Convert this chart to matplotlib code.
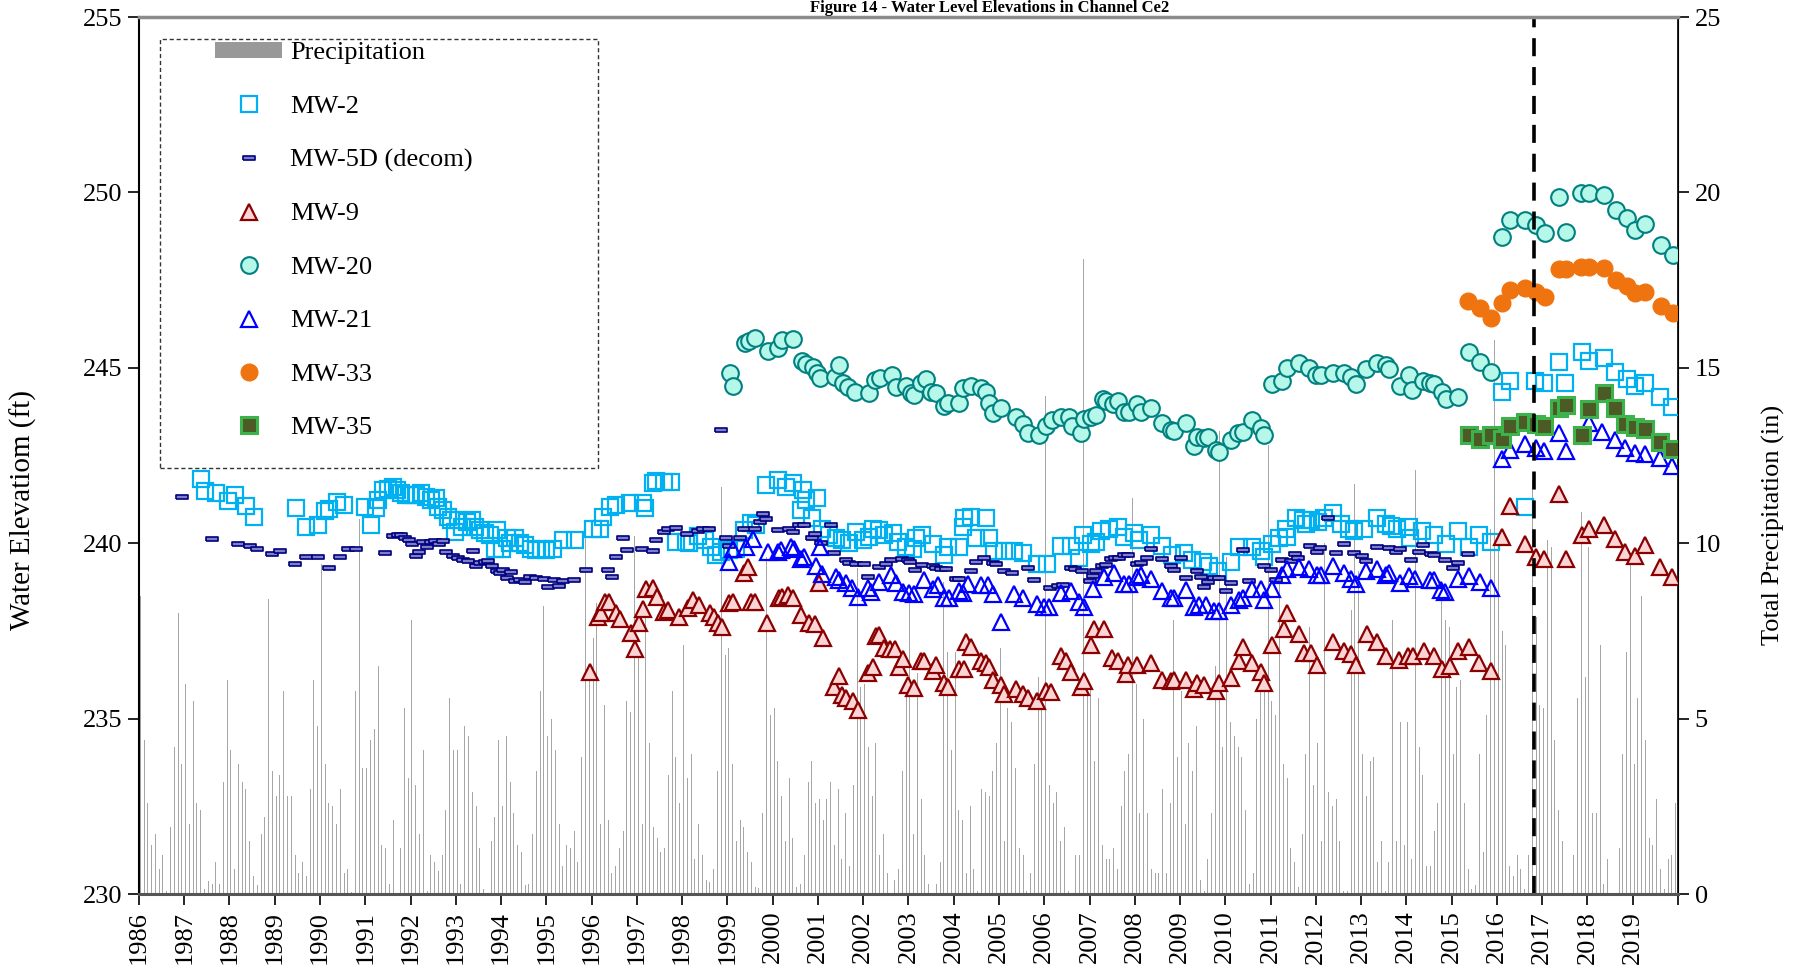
import matplotlib
matplotlib.use("Agg")
import matplotlib.pyplot as plt
import numpy as np
from matplotlib.patches import Patch, Rectangle
from matplotlib.lines import Line2D


# ----------------------------------------
# Monthly precipitation (in), one row per year, Jan..Dec
# ----------------------------------------

precip_years = list(range(1986, 2020))

precip_monthly = [
    [8.5, 4.4, 2.6, 1.4, 1.7, 0.7, 1.1, 0.1, 1.9, 4.2, 8.0, 3.7],
    [6.0, 2.0, 5.5, 2.6, 2.4, 0.15, 0.36, 0.3, 0.9, 0.3, 3.2, 6.1],
    [4.1, 0.7, 3.7, 3.2, 3.0, 1.5, 0.5, 0.25, 1.7, 2.2, 8.4, 3.5],
    [2.8, 3.4, 5.8, 2.8, 2.8, 1.1, 0.6, 0.9, 0.5, 3.0, 6.1, 4.8],
    [9.4, 3.7, 2.6, 2.5, 2.0, 3.0, 0.6, 0.7, 0.05, 5.8, 10.7, 3.6],
    [3.6, 4.4, 4.7, 6.5, 1.4, 1.3, 0.3, 2.1, 0.0, 1.3, 5.3, 3.3],
    [7.8, 3.1, 1.7, 4.1, 0.1, 1.1, 0.9, 0.65, 1.1, 2.4, 5.6, 4.1],
    [4.1, 0.3, 4.8, 4.5, 2.9, 2.5, 1.3, 0.15, 0.0, 1.5, 2.2, 4.4],
    [2.5, 4.5, 3.2, 2.3, 1.4, 1.2, 0.25, 0.3, 1.7, 3.5, 5.8, 8.2],
    [4.5, 5.0, 4.1, 2.0, 0.8, 1.4, 1.3, 1.8, 0.9, 3.9, 10.4, 6.2],
    [7.3, 8.3, 2.0, 5.4, 2.1, 0.6, 0.8, 1.3, 1.8, 5.5, 5.2, 10.2],
    [7.0, 2.0, 8.0, 4.3, 1.9, 1.6, 1.2, 1.3, 3.4, 5.8, 3.9, 2.6],
    [7.1, 3.3, 4.0, 1.0, 2.0, 1.1, 0.4, 0.35, 0.7, 3.5, 11.6, 6.8],
    [7.0, 3.7, 1.5, 2.1, 1.9, 1.2, 0.9, 0.2, 0.17, 2.3, 9.6, 5.1],
    [5.3, 3.8, 2.8, 1.5, 3.3, 1.6, 0.2, 0.3, 1.1, 3.2, 3.8, 2.6],
    [2.7, 2.1, 2.7, 3.2, 1.4, 3.0, 1.0, 2.3, 0.8, 3.1, 9.3, 5.9],
    [6.0, 4.2, 2.8, 4.3, 1.1, 1.7, 0.6, 0.0, 0.4, 0.7, 3.5, 5.7],
    [8.5, 1.7, 6.3, 2.7, 1.1, 0.3, 0.0, 0.3, 0.9, 8.9, 6.9, 4.1],
    [6.9, 2.4, 2.1, 0.6, 2.5, 0.7, 0.1, 3.0, 2.9, 2.8, 3.5, 4.3],
    [7.0, 1.5, 5.3, 4.9, 3.6, 1.3, 1.1, 0.1, 0.6, 3.7, 6.2, 5.4],
    [14.2, 3.1, 2.6, 2.9, 1.5, 1.9, 0.1, 0.0, 1.1, 1.1, 18.1, 5.9],
    [6.0, 3.8, 5.6, 1.4, 1.0, 1.0, 1.3, 0.7, 2.5, 3.5, 4.0, 11.3],
    [6.0, 2.3, 5.0, 2.3, 0.7, 0.6, 0.6, 3.0, 0.6, 2.6, 7.8, 3.9],
    [5.8, 2.0, 4.3, 3.5, 4.8, 0.4, 0.1, 1.0, 2.3, 6.5, 13.2, 4.2],
    [9.6, 4.9, 4.5, 4.2, 3.9, 2.4, 0.3, 0.6, 5.0, 5.9, 6.4, 12.8],
    [5.5, 5.1, 8.9, 3.7, 3.3, 1.3, 0.9, 0.2, 1.7, 4.0, 7.6, 3.1],
    [4.3, 1.5, 10.0, 2.9, 2.5, 2.7, 1.5, 0.1, 0.1, 8.1, 11.7, 9.2],
    [4.0, 2.8, 3.8, 3.9, 0.9, 1.5, 0.1, 0.9, 7.8, 1.5, 4.9, 1.4],
    [4.9, 1.0, 12.1, 4.2, 3.4, 0.8, 0.8, 1.8, 2.6, 8.4, 7.8, 7.6],
    [4.0, 5.9, 6.1, 2.6, 0.7, 0.15, 0.26, 4.0, 1.2, 5.1, 10.4, 15.8],
    [10.2, 7.5, 7.1, 0.8, 0.5, 1.1, 0.7, 0.15, 1.1, 11.8, 7.9, 5.4],
    [5.3, 10.1, 9.9, 4.4, 2.4, 1.5, 0.0, 0.0, 1.1, 5.6, 10.9, 6.2],
    [9.9, 2.3, 2.3, 7.1, 0.3, 1.0, 0.0, 0.0, 1.3, 4.0, 6.9, 9.6],
    [3.7, 5.6, 8.5, 4.4, 1.6, 1.4, 2.7, 0.7, 0.15, 1.0, 1.1, 2.6],
]


# ----------------------------------------
# Water level elevations (ft), decimal year / elevation
# ----------------------------------------

mw2_t = [
    1987.375, 1987.46, 1987.70, 1987.96, 1988.13, 1988.37, 1988.54, 1989.46,
    1989.70, 1989.96, 1990.11, 1990.20, 1990.375, 1990.54, 1990.99, 1991.12,
    1991.24, 1991.28, 1991.39, 1991.50, 1991.62, 1991.69, 1991.80, 1991.91,
    1992.02, 1992.13, 1992.24, 1992.35, 1992.46, 1992.57, 1992.61, 1992.72,
    1992.83, 1992.90, 1992.98, 1993.05, 1993.13, 1993.24, 1993.35, 1993.42,
    1993.53, 1993.64, 1993.75, 1993.86, 1993.90, 1994.01, 1994.12, 1994.19,
    1994.30, 1994.41, 1994.52, 1994.67, 1994.78, 1994.89, 1995.00, 1995.15,
    1995.37, 1995.63, 1996.03, 1996.18, 1996.25, 1996.40, 1996.54, 1996.84,
    1997.13, 1997.17, 1997.35, 1997.43, 1997.60, 1997.75, 1997.87, 1998.09,
    1998.16, 1998.35, 1998.50, 1998.64, 1998.75, 1998.86, 1999.04, 1999.19,
    1999.375, 1999.52, 1999.63, 1999.85, 2000.11, 2000.29, 2000.44, 2000.63,
    2000.66, 2000.74, 2000.88, 2000.99, 2001.10, 2001.25, 2001.40, 2001.54,
    2001.69, 2001.84, 2001.99, 2002.13, 2002.21, 2002.35, 2002.46, 2002.65,
    2002.76, 2002.94, 2003.09, 2003.16, 2003.31, 2003.54, 2003.79, 2003.87,
    2004.12, 2004.20, 2004.23, 2004.38, 2004.49, 2004.71, 2004.79, 2004.90,
    2005.12, 2005.34, 2005.52, 2005.85, 2006.07, 2006.37, 2006.59, 2006.77,
    2006.85, 2007.03, 2007.14, 2007.25, 2007.44, 2007.62, 2007.77, 2007.99,
    2008.10, 2008.36, 2008.61, 2008.83, 2009.09, 2009.27, 2009.50, 2009.64,
    2009.83, 2010.12, 2010.31, 2010.60, 2010.78, 2010.86, 2011.04, 2011.19,
    2011.34, 2011.37, 2011.56, 2011.71, 2011.78, 2011.89, 2012.04, 2012.19,
    2012.37, 2012.55, 2012.73, 2012.84, 2013.06, 2013.36, 2013.54, 2013.65,
    2013.80, 2014.06, 2014.09, 2014.35, 2014.61, 2014.87, 2015.13, 2015.38,
    2015.60, 2015.86, 2016.12, 2016.30, 2016.63, 2016.85, 2017.04, 2017.37,
    2017.51, 2017.88, 2018.03, 2018.36, 2018.62, 2018.87, 2019.06, 2019.28,
    2019.61, 2019.87,
]
mw2_elev = [
    241.82, 241.50, 241.44, 241.19, 241.37, 241.07, 240.74, 241.00,
    240.47, 240.51, 240.93, 240.97, 241.18, 241.08, 241.02, 240.51,
    241.00, 241.23, 241.52, 241.56, 241.61, 241.52, 241.42, 241.37,
    241.37, 241.37, 241.42, 241.33, 241.23, 241.28, 241.04, 240.95,
    240.76, 240.66, 240.33, 240.66, 240.47, 240.61, 240.66, 240.47,
    240.38, 240.28, 240.23, 239.85, 240.38, 239.85, 240.14, 240.00,
    240.14, 240.00, 239.95, 239.85, 239.81, 239.85, 239.81, 239.85,
    240.09, 240.10, 240.42, 240.42, 240.76, 241.04, 241.09, 241.14,
    241.14, 241.00, 241.71, 241.76, 241.75, 241.75, 240.04, 240.04,
    240.00, 240.20, 240.10, 239.90, 239.66, 239.76, 239.81, 239.85,
    240.38, 240.57, 240.52, 241.66, 241.81, 241.61, 241.71, 240.95,
    241.52, 241.23, 240.71, 241.28, 240.42, 240.23, 240.14, 240.09,
    240.00, 240.33, 240.09, 240.19, 240.42, 240.38, 240.23, 240.28,
    240.04, 239.90, 239.85, 240.14, 240.24, 239.98, 239.67, 239.88,
    239.88, 240.45, 240.71, 240.76, 240.14, 240.71, 240.14, 239.78,
    239.78, 239.78, 239.73, 239.42, 239.42, 239.93, 239.93, 239.57,
    240.24, 239.98, 240.03, 240.35, 240.40, 240.45, 240.19, 240.29,
    240.09, 240.24, 239.93, 239.67, 239.73, 239.52, 239.47, 239.36,
    239.21, 239.47, 239.88, 239.88, 239.78, 239.62, 239.98, 240.14,
    240.40, 240.19, 240.71, 240.66, 240.55, 240.66, 240.61, 240.71,
    240.86, 240.55, 240.40, 240.35, 240.40, 240.71, 240.55, 240.50,
    240.40, 240.45, 240.14, 240.35, 240.24, 239.98, 240.35, 239.88,
    240.24, 240.03, 244.32, 244.63, 241.02, 244.63, 244.58, 245.17,
    244.58, 245.46, 245.20, 245.27, 244.89, 244.68, 244.48, 244.58,
    244.17, 243.88,
]

mw5d_t = [
    1986.94, 1987.62, 1988.19, 1988.45, 1988.61, 1988.94, 1989.11, 1989.45,
    1989.70, 1989.96, 1990.19, 1990.45, 1990.62, 1990.79, 1991.44, 1991.62,
    1991.72, 1991.78, 1991.87, 1991.97, 1992.04, 1992.12, 1992.19, 1992.28,
    1992.37, 1992.46, 1992.54, 1992.63, 1992.71, 1992.79, 1992.94, 1993.05,
    1993.16, 1993.27, 1993.37, 1993.44, 1993.53, 1993.64, 1993.71, 1993.79,
    1993.90, 1993.97, 1994.04, 1994.13, 1994.23, 1994.30, 1994.41, 1994.52,
    1994.63, 1994.78, 1994.94, 1995.04, 1995.18, 1995.29, 1995.37, 1995.60,
    1995.87, 1996.36, 1996.46, 1996.53, 1996.69, 1996.78, 1997.11, 1997.35,
    1997.43, 1997.61, 1997.68, 1997.87, 1998.11, 1998.35, 1998.46, 1998.60,
    1998.86, 1998.96, 1999.04, 1999.28, 1999.375, 1999.62, 1999.71, 1999.78,
    1999.85, 2000.11, 2000.35, 2000.44, 2000.59, 2000.70, 2000.87, 2000.93,
    2001.07, 2001.29, 2001.36, 2001.62, 2001.69, 2001.85, 2002.02, 2002.11,
    2002.35, 2002.51, 2002.61, 2002.85, 2002.98, 2003.04, 2003.14, 2003.31,
    2003.54, 2003.61, 2003.72, 2003.83, 2004.05, 2004.12, 2004.38, 2004.49,
    2004.67, 2004.86, 2004.93, 2005.12, 2005.28, 2005.63, 2005.78, 2006.12,
    2006.30, 2006.41, 2006.59, 2006.67, 2006.83, 2007.00, 2007.07, 2007.14,
    2007.27, 2007.36, 2007.47, 2007.56, 2007.66, 2007.77, 2007.84, 2008.06,
    2008.13, 2008.28, 2008.36, 2008.61, 2008.80, 2008.87, 2009.02, 2009.13,
    2009.38, 2009.46, 2009.53, 2009.61, 2009.75, 2009.86, 2010.01, 2010.12,
    2010.38, 2010.53, 2010.86, 2011.02, 2011.11, 2011.26, 2011.45, 2011.53,
    2011.61, 2011.86, 2012.03, 2012.10, 2012.27, 2012.44, 2012.62, 2012.85,
    2013.02, 2013.10, 2013.36, 2013.62, 2013.78, 2013.86, 2014.11, 2014.28,
    2014.37, 2014.54, 2014.61, 2014.85, 2015.03, 2015.13, 2015.37,
]
mw5d_elev = [
    241.31, 240.11, 239.98, 239.93, 239.85, 239.69, 239.78, 239.40,
    239.61, 239.60, 239.28, 239.61, 239.85, 239.85, 239.73, 240.20,
    240.23, 240.23, 240.14, 240.09, 239.98, 239.64, 239.76, 240.04,
    239.90, 240.04, 240.06, 239.98, 240.06, 239.74, 239.64, 239.57,
    239.52, 239.49, 239.78, 239.36, 239.43, 239.47, 239.49, 239.35,
    239.22, 239.14, 239.23, 239.02, 239.19, 238.92, 238.95, 238.89,
    239.05, 239.00, 238.98, 238.76, 238.95, 238.79, 238.92, 238.94,
    239.23, 239.23, 239.05, 239.61, 240.14, 239.81, 239.85, 239.78,
    240.10, 240.33, 240.42, 240.44, 240.25, 240.35, 240.40, 240.41,
    243.23, 240.16, 239.92, 240.16, 240.41, 240.42, 240.60, 240.83,
    240.68, 240.38, 240.42, 240.33, 240.52, 240.52, 240.16, 240.26,
    240.00, 240.52, 239.73, 239.52, 239.44, 239.40, 239.40, 239.05,
    239.33, 239.41, 239.52, 239.54, 239.52, 239.47, 239.24, 239.38,
    239.36, 239.30, 239.26, 239.26, 238.97, 238.97, 239.21, 239.47,
    239.57, 239.45, 239.42, 239.21, 239.14, 239.30, 238.95, 238.72,
    238.77, 238.81, 239.29, 239.26, 239.21, 238.92, 239.07, 239.21,
    239.36, 239.38, 239.55, 239.59, 239.59, 239.67, 239.67, 239.42,
    239.45, 239.59, 239.83, 239.55, 239.36, 239.24, 239.59, 239.00,
    239.21, 239.05, 238.75, 238.90, 239.00, 239.00, 238.64, 238.87,
    239.80, 238.93, 239.36, 239.24, 238.96, 239.52, 239.50, 239.70,
    239.59, 239.91, 239.75, 239.87, 240.73, 239.72, 239.98, 239.72,
    239.65, 239.50, 239.88, 239.87, 239.75, 239.83, 239.52, 239.75,
    239.96, 239.68, 239.67, 239.52, 239.29, 239.45, 239.70,
]

mw9_t = [
    1995.96, 1996.14, 1996.21, 1996.29, 1996.375, 1996.53, 1996.62, 1996.88,
    1996.96, 1997.04, 1997.13, 1997.20, 1997.35, 1997.44, 1997.61, 1997.68,
    1997.94, 1998.13, 1998.24, 1998.37, 1998.62, 1998.71, 1998.79, 1998.88,
    1999.04, 1999.12, 1999.375, 1999.45, 1999.52, 1999.62, 1999.87, 2000.13,
    2000.21, 2000.33, 2000.46, 2000.63, 2000.81, 2000.94, 2001.03, 2001.12,
    2001.36, 2001.46, 2001.53, 2001.63, 2001.78, 2001.875, 2002.11, 2002.21,
    2002.28, 2002.35, 2002.46, 2002.59, 2002.71, 2002.79, 2002.87, 2003.00,
    2003.13, 2003.28, 2003.35, 2003.54, 2003.61, 2003.79, 2003.87, 2004.12,
    2004.23, 2004.27, 2004.38, 2004.60, 2004.71, 2004.79, 2004.86, 2005.04,
    2005.12, 2005.37, 2005.52, 2005.63, 2005.85, 2006.04, 2006.15, 2006.37,
    2006.49, 2006.59, 2006.81, 2006.88, 2007.03, 2007.10, 2007.32, 2007.50,
    2007.62, 2007.80, 2007.84, 2008.06, 2008.35, 2008.61, 2008.80, 2008.87,
    2009.13, 2009.31, 2009.38, 2009.53, 2009.79, 2009.86, 2010.12, 2010.31,
    2010.38, 2010.60, 2010.78, 2010.86, 2011.04, 2011.30, 2011.37, 2011.63,
    2011.74, 2011.89, 2012.03, 2012.37, 2012.63, 2012.77, 2012.88, 2013.14,
    2013.36, 2013.54, 2013.84, 2014.03, 2014.14, 2014.39, 2014.61, 2014.79,
    2014.96, 2015.13, 2015.38, 2015.60, 2015.86, 2016.12, 2016.28, 2016.62,
    2016.87, 2017.04, 2017.37, 2017.53, 2017.87, 2018.03, 2018.36, 2018.62,
    2018.84, 2019.04, 2019.28, 2019.61, 2019.87,
]
mw9_elev = [
    236.34, 237.90, 238.00, 238.33, 238.33, 238.02, 237.83, 237.43,
    236.98, 237.72, 238.12, 238.69, 238.71, 238.48, 238.05, 238.10,
    237.90, 238.14, 238.38, 238.24, 238.02, 237.90, 237.72, 237.60,
    238.30, 238.33, 239.14, 239.33, 238.33, 238.33, 237.72, 238.43,
    238.48, 238.52, 238.45, 237.95, 237.72, 237.70, 238.86, 237.29,
    235.91, 236.21, 235.67, 235.58, 235.51, 235.26, 236.31, 236.48,
    237.35, 237.38, 237.00, 236.98, 236.98, 236.48, 236.69, 235.96,
    235.86, 236.63, 236.63, 236.37, 236.52, 236.01, 235.90, 236.42,
    236.42, 237.19, 237.04, 236.63, 236.58, 236.47, 236.11, 235.95,
    235.70, 235.85, 235.70, 235.59, 235.49, 235.80, 235.75, 236.78,
    236.63, 236.32, 235.90, 236.06, 237.09, 237.56, 237.56, 236.73,
    236.63, 236.27, 236.52, 236.52, 236.58, 236.11, 236.08, 236.11,
    236.11, 235.85, 236.01, 235.95, 235.80, 236.01, 236.16, 236.63,
    237.04, 236.58, 236.32, 236.01, 237.09, 237.56, 238.02, 237.40,
    236.88, 236.88, 236.52, 237.19, 236.94, 236.83, 236.52, 237.40,
    237.19, 236.78, 236.68, 236.78, 236.78, 236.94, 236.78, 236.42,
    236.49, 236.94, 237.04, 236.60, 236.35, 240.19, 241.07, 239.98,
    239.62, 239.55, 241.41, 239.55, 240.24, 240.40, 240.52, 240.11,
    239.76, 239.65, 239.95, 239.31, 239.05,
]

mw20_t = [
    1999.05, 1999.13, 1999.38, 1999.47, 1999.61, 1999.89, 2000.12, 2000.20,
    2000.46, 2000.65, 2000.74, 2000.90, 2000.98, 2001.05, 2001.37, 2001.46,
    2001.56, 2001.66, 2001.81, 2002.13, 2002.26, 2002.38, 2002.64, 2002.73,
    2002.95, 2003.06, 2003.13, 2003.28, 2003.39, 2003.50, 2003.61, 2003.79,
    2003.87, 2004.12, 2004.20, 2004.38, 2004.60, 2004.71, 2004.79, 2004.86,
    2005.04, 2005.37, 2005.52, 2005.63, 2005.89, 2006.04, 2006.18, 2006.37,
    2006.55, 2006.62, 2006.81, 2006.88, 2007.03, 2007.14, 2007.29, 2007.36,
    2007.51, 2007.62, 2007.77, 2007.88, 2008.06, 2008.13, 2008.35, 2008.61,
    2008.80, 2008.87, 2009.13, 2009.31, 2009.38, 2009.53, 2009.61, 2009.79,
    2009.86, 2010.12, 2010.27, 2010.38, 2010.60, 2010.78, 2010.86, 2011.04,
    2011.26, 2011.37, 2011.63, 2011.85, 2012.00, 2012.11, 2012.37, 2012.63,
    2012.77, 2012.88, 2013.10, 2013.36, 2013.54, 2013.62, 2013.87, 2014.06,
    2014.13, 2014.37, 2014.53, 2014.61, 2014.79, 2014.87, 2015.13, 2015.38,
    2015.62, 2015.88, 2016.11, 2016.30, 2016.61, 2016.87, 2017.06, 2017.37,
    2017.53, 2017.85, 2018.04, 2018.36, 2018.64, 2018.87, 2019.05, 2019.27,
    2019.63, 2019.88,
]
mw20_elev = [
    244.86, 244.49, 245.70, 245.77, 245.84, 245.49, 245.56, 245.79,
    245.82, 245.19, 245.11, 245.01, 244.86, 244.70, 244.75, 245.08,
    244.56, 244.46, 244.32, 244.27, 244.65, 244.70, 244.79, 244.46,
    244.48, 244.27, 244.22, 244.58, 244.68, 244.32, 244.27, 243.91,
    244.01, 244.01, 244.42, 244.48, 244.42, 244.32, 244.01, 243.70,
    243.86, 243.60, 243.39, 243.13, 243.08, 243.34, 243.50, 243.60,
    243.60, 243.34, 243.13, 243.55, 243.60, 243.65, 244.12, 244.06,
    243.96, 244.06, 243.75, 243.75, 243.96, 243.75, 243.86, 243.44,
    243.24, 243.19, 243.44, 242.77, 243.03, 243.00, 243.03, 242.67,
    242.59, 242.93, 243.13, 243.16, 243.52, 243.29, 243.08, 244.53,
    244.63, 244.99, 245.15, 244.99, 244.79, 244.79, 244.84, 244.84,
    244.73, 244.53, 244.96, 245.13, 245.07, 244.96, 244.48, 244.79,
    244.37, 244.63, 244.58, 244.53, 244.32, 244.12, 244.17, 245.46,
    245.17, 244.89, 248.74, 249.21, 249.21, 249.07, 248.85, 249.88,
    248.86, 249.97, 249.97, 249.93, 249.50, 249.26, 248.93, 249.10,
    248.50, 248.22,
]

mw21_t = [
    1999.04, 1999.12, 1999.41, 1999.56, 1999.89, 2000.11, 2000.18, 2000.40,
    2000.48, 2000.63, 2000.70, 2000.96, 2001.04, 2001.10, 2001.40, 2001.47,
    2001.62, 2001.76, 2001.875, 2002.10, 2002.17, 2002.35, 2002.61, 2002.72,
    2002.87, 2003.01, 2003.13, 2003.35, 2003.54, 2003.65, 2003.79, 2003.90,
    2004.12, 2004.20, 2004.31, 2004.60, 2004.75, 2004.86, 2005.04, 2005.34,
    2005.52, 2005.85, 2006.00, 2006.11, 2006.37, 2006.59, 2006.77, 2006.88,
    2007.07, 2007.32, 2007.55, 2007.77, 2007.88, 2008.06, 2008.13, 2008.35,
    2008.61, 2008.80, 2008.87, 2009.13, 2009.31, 2009.42, 2009.57, 2009.75,
    2009.86, 2010.12, 2010.31, 2010.38, 2010.60, 2010.78, 2010.86, 2011.04,
    2011.26, 2011.37, 2011.63, 2011.85, 2012.03, 2012.11, 2012.37, 2012.62,
    2012.77, 2012.88, 2013.10, 2013.36, 2013.54, 2013.62, 2013.87, 2014.06,
    2014.20, 2014.53, 2014.61, 2014.76, 2014.85, 2015.13, 2015.38, 2015.62,
    2015.88, 2016.12, 2016.30, 2016.62, 2016.87, 2017.04, 2017.37, 2017.53,
    2018.03, 2018.32, 2018.62, 2018.84, 2019.04, 2019.28, 2019.61, 2019.87,
]
mw21_elev = [
    239.47, 239.85, 239.90, 240.11, 239.76, 239.76, 239.81, 239.90,
    239.85, 239.54, 239.62, 239.35, 239.90, 239.12, 239.05, 238.95,
    238.86, 238.71, 238.48, 238.71, 238.62, 238.90, 239.09, 238.86,
    238.62, 238.57, 238.54, 238.95, 238.69, 238.80, 238.44, 238.44,
    238.64, 238.59, 238.85, 238.80, 238.80, 238.54, 237.76, 238.54,
    238.44, 238.28, 238.18, 238.18, 238.59, 238.64, 238.33, 238.18,
    238.69, 239.05, 239.16, 238.85, 238.85, 239.05, 239.10, 238.97,
    238.64, 238.45, 238.44, 238.66, 238.18, 238.23, 238.23, 238.07,
    238.07, 238.23, 238.38, 238.44, 238.69, 238.69, 238.38, 238.69,
    239.10, 239.26, 239.31, 239.26, 239.10, 239.10, 239.36, 239.14,
    238.97, 238.85, 239.21, 239.26, 239.10, 239.14, 238.87, 239.07,
    238.97, 238.95, 238.95, 238.66, 238.62, 238.97, 239.07, 238.90,
    238.72, 242.41, 242.67, 242.82, 242.72, 242.62, 243.13, 242.62,
    243.44, 243.16, 242.93, 242.72, 242.57, 242.55, 242.44, 242.20,
]

mw33_t = [
    2015.37, 2015.62, 2015.88, 2016.11, 2016.30, 2016.61, 2016.87, 2017.06,
    2017.37, 2017.53, 2017.85, 2018.04, 2018.36, 2018.64, 2018.87, 2019.05,
    2019.27, 2019.63, 2019.88,
]
mw33_elev = [
    246.90, 246.70, 246.43, 246.84, 247.22, 247.29, 247.17, 247.03,
    247.81, 247.81, 247.88, 247.88, 247.85, 247.50, 247.33, 247.12,
    247.17, 246.76, 246.55,
]

mw35_t = [
    2015.38, 2015.62, 2015.86, 2016.12, 2016.28, 2016.62, 2016.87, 2017.04,
    2017.37, 2017.53, 2017.87, 2018.03, 2018.36, 2018.62, 2018.84, 2019.04,
    2019.28, 2019.61, 2019.87,
]
mw35_elev = [
    243.08, 242.96, 243.08, 242.98, 243.34, 243.47, 243.41, 243.34,
    243.86, 243.93, 243.08, 243.83, 244.27, 243.86, 243.41, 243.31,
    243.27, 242.88, 242.69,
]

divider_year = 2016.82

year_ticks = list(range(1986, 2021))
year_labels = [str(y) for y in range(1986, 2020)] + [""]


plt.rcParams["font.family"] = ["Liberation Serif", "DejaVu Serif"]


fig, ax = plt.subplots(
    figsize=(18, 9.74),
    dpi=100
)

fig.subplots_adjust(
    left=0.0772,
    right=0.9322,
    bottom=0.0821,
    top=0.9825
)

ax2 = ax.twinx()

# keep the scatter above the precipitation bars
ax.set_zorder(ax2.get_zorder() + 1)
ax.patch.set_visible(False)


# ----------------------------------------
# Precipitation bars (right axis)
# ----------------------------------------

bar_x = []
bar_h = []

for year, months in zip(precip_years, precip_monthly):

    for m, value in enumerate(months):

        bar_x.append(year + m / 12 + 0.02)

        bar_h.append(value)

ax2.bar(
    bar_x,
    bar_h,
    width=0.022,
    color="#a6a6a6",
    linewidth=0,
    align="edge"
)

ax2.set_ylim(0, 25)
ax2.set_yticks([0, 5, 10, 15, 20, 25])
ax2.set_ylabel(
    "Total Precipitation (in)",
    fontsize=19
)
ax2.yaxis.set_label_coords(1.0548, 0.421)


# ----------------------------------------
# Water level series (left axis)
# ----------------------------------------

rect_marker = [(-1, -0.42), (1, -0.42), (1, 0.42), (-1, 0.42), (-1, -0.42)]

ax.plot(
    mw2_t, mw2_elev, linestyle="none",
    marker="s", markersize=11, markerfacecolor="none",
    markeredgecolor="#00b0f0", markeredgewidth=1.6,
    label="MW-2"
)

ax.plot(
    mw5d_t, mw5d_elev, linestyle="none",
    marker=rect_marker, markersize=8, markerfacecolor="#7f7fc8",
    markeredgecolor="#000080", markeredgewidth=1.2,
    label="MW-5D (decom)"
)

ax.plot(
    mw9_t, mw9_elev, linestyle="none",
    marker="^", markersize=12, markerfacecolor="#fbd5d5",
    markeredgecolor="#8b0000", markeredgewidth=1.6,
    label="MW-9"
)

ax.plot(
    mw20_t, mw20_elev, linestyle="none",
    marker="o", markersize=12, markerfacecolor="#b5f7e8",
    markeredgecolor="#008080", markeredgewidth=1.5,
    label="MW-20"
)

ax.plot(
    mw21_t, mw21_elev, linestyle="none",
    marker="^", markersize=12, markerfacecolor="none",
    markeredgecolor="#0000ff", markeredgewidth=1.6,
    label="MW-21"
)

ax.plot(
    mw33_t, mw33_elev, linestyle="none",
    marker="o", markersize=12, markerfacecolor="#ef7410",
    markeredgecolor="#ef7410", markeredgewidth=1,
    label="MW-33"
)

ax.plot(
    mw35_t, mw35_elev, linestyle="none",
    marker="s", markersize=11, markerfacecolor="#4c5a26",
    markeredgecolor="#3bb34a", markeredgewidth=2.2,
    label="MW-35"
)

ax.axvline(
    divider_year,
    color="black",
    linestyle=(0, (5, 3)),
    linewidth=2.6
)


# ----------------------------------------
# Axes
# ----------------------------------------

ax.set_xlim(1986, 2020)
ax.set_ylim(230, 255)
ax.set_yticks([230, 235, 240, 245, 250, 255])
ax.set_xticks(year_ticks)
ax.set_xticklabels(year_labels, rotation=90)

ax.set_ylabel(
    "Water Elevatiom (ft)",
    fontsize=21
)
ax.yaxis.set_label_coords(-0.066, 0.438)

for a in (ax, ax2):

    a.tick_params(
        axis="both",
        direction="out",
        length=8,
        width=1.2,
        labelsize=19,
        pad=4
    )

ax.spines["top"].set_color("#8c8c8c")
ax.spines["top"].set_linewidth(2.5)
ax.spines["bottom"].set_color("#555555")
ax.spines["bottom"].set_linewidth(2.2)
ax.spines["left"].set_linewidth(1.5)
ax2.spines["top"].set_visible(False)
ax2.spines["bottom"].set_visible(False)
ax2.spines["left"].set_visible(False)
ax2.spines["right"].set_linewidth(1.2)


# ----------------------------------------
# Legend in a dashed box
# ----------------------------------------

handles = [Patch(facecolor="#999999", edgecolor="none", label="Precipitation")]
handles += ax.get_lines()[:7]

ax.legend(
    handles=handles,
    loc="upper left",
    bbox_to_anchor=(0.0494, 0.9715),
    frameon=False,
    fontsize=19,
    handlelength=2.55,
    handleheight=0.55,
    handletextpad=0.3,
    labelspacing=1.18,
    borderpad=0,
    borderaxespad=0
)

ax.add_patch(
    Rectangle(
        (0.0136, 0.4857),
        0.2846,
        0.4893,
        transform=ax.transAxes,
        fill=False,
        edgecolor="#333333",
        linestyle=(0, (3, 2)),
        linewidth=1.0,
        zorder=5
    )
)


# ----------------------------------------
# Title, squeezed into the strip above the plot
# ----------------------------------------

fig.text(
    0.55,
    0.9995,
    "Figure 14 - Water Level Elevations in Channel Ce2",
    ha="center",
    va="top",
    fontsize=12,
    fontweight="bold"
)

fig.savefig("out.png", dpi=100)
